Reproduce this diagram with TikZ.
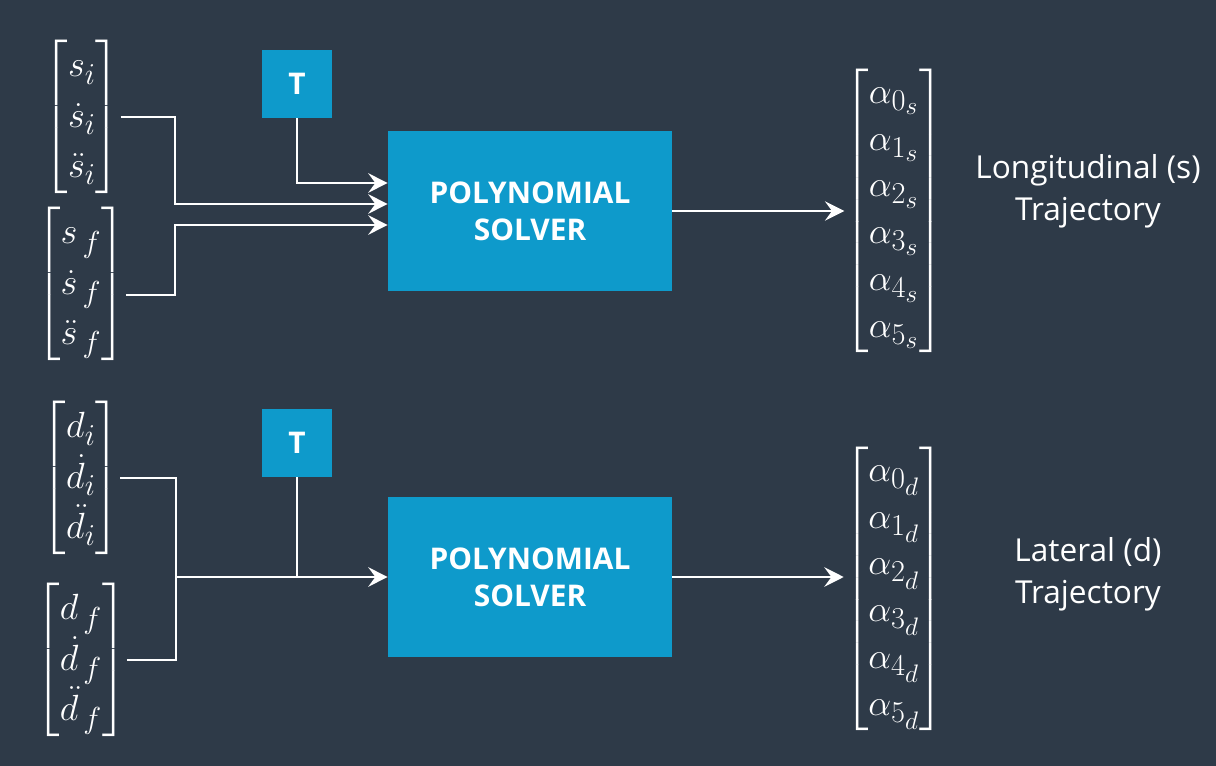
\documentclass[tikz,border=0pt]{standalone}
\usepackage{amsmath}
\usepackage[no-math]{fontspec}
\setmainfont{Open Sans}
\usepackage{tikz}
\usepackage{xcolor}
\definecolor{vizBg}{HTML}{2E3A48}
\definecolor{vizBox}{HTML}{0E9ACB}
\usetikzlibrary{arrows.meta}
\DeclareMathSizes{22}{22}{18}{15}

\begin{document}
\begin{tikzpicture}[x=0.02cm, y=-0.02cm,
  wire/.style={white, line width=1.7pt},
  feed/.style={wire, -{Stealth[length=11pt, width=11pt, inset=4pt]}},
  block/.style={draw=none, fill=vizBox, text=white, align=center, font=\bfseries\fontsize{17}{21}\selectfont},
  solver/.style={block, minimum width=5.68cm, minimum height=3.2cm},
  tbox/.style={block, minimum width=1.42cm, minimum height=1.36cm},
  vec/.style={text=white, inner sep=0pt, font=\fontsize{22}{22}\selectfont, execute at begin node=\renewcommand{\arraystretch}{1.3}},
  coef/.style={vec, execute at begin node=\renewcommand{\arraystretch}{1.21}},
  lbl/.style={text=white, align=center, font=\fontsize{18}{24}\selectfont}]
  \fill[vizBg] (0,0) rectangle (1216,766);
  \useasboundingbox (0,0) rectangle (1216,766);
  % longitudinal
  \node[vec] (si) at (82,117) {$\left[\begin{matrix} s_i \\ \dot{s}_i \\ \ddot{s}_i \end{matrix}\right]$};
  \node[vec] (sf) at (81,284) {$\left[\begin{matrix} s_{\,f} \\ \dot{s}_{\,f} \\ \ddot{s}_{\,f} \end{matrix}\right]$};
  \node[tbox] (ts) at (297,84) {T};
  \node[solver] (ps) at (530,211) {POLYNOMIAL\\SOLVER};
  \node[coef] (as) at (894,211) {$\left[\begin{matrix} \alpha_{0_s} \\ \alpha_{1_s} \\ \alpha_{2_s} \\ \alpha_{3_s} \\ \alpha_{4_s} \\ \alpha_{5_s} \end{matrix}\right]$};
  \node[lbl] (lon) at (1088,191) {Longitudinal (s)\\Trajectory};
  \coordinate (sj) at (175,211);
  \draw[feed] (ts.south) |- ([yshift=0.56cm]ps.west);
  \draw[feed] (si.east) -- (si.east -| sj) |- ([yshift=0.14cm]ps.west);
  \draw[feed] ([yshift=-0.22cm]sf.east) -| (sj |- sf.east) |- ([yshift=-0.28cm]ps.west);
  \draw[feed] (ps.east) -- (as.west);
  % lateral
  \node[vec] (di) at (81,478) {$\left[\begin{matrix} d_i \\ \dot{d}_i \\ \ddot{d}_i \end{matrix}\right]$};
  \node[vec] (df) at (81,660) {$\left[\begin{matrix} d_{\,f} \\ \dot{d}_{\,f} \\ \ddot{d}_{\,f} \end{matrix}\right]$};
  \node[tbox] (td) at (297,443) {T};
  \node[solver] (pd) at (530,577) {POLYNOMIAL\\SOLVER};
  \node[coef] (ad) at (894,589) {$\left[\begin{matrix} \alpha_{0_d} \\ \alpha_{1_d} \\ \alpha_{2_d} \\ \alpha_{3_d} \\ \alpha_{4_d} \\ \alpha_{5_d} \end{matrix}\right]$};
  \node[lbl] (lat) at (1088,574) {Lateral (d)\\Trajectory};
  \coordinate (dj) at (176,577);
  \draw[wire] (di.east) -| (dj);
  \draw[wire] (df.east) -| (dj);
  \draw[wire] (td.south) -- (td.south |- dj);
  \draw[feed] (dj) -- (pd.west);
  \draw[feed] (pd.east) -- (pd.east -| ad.west);
\end{tikzpicture}
\end{document}
